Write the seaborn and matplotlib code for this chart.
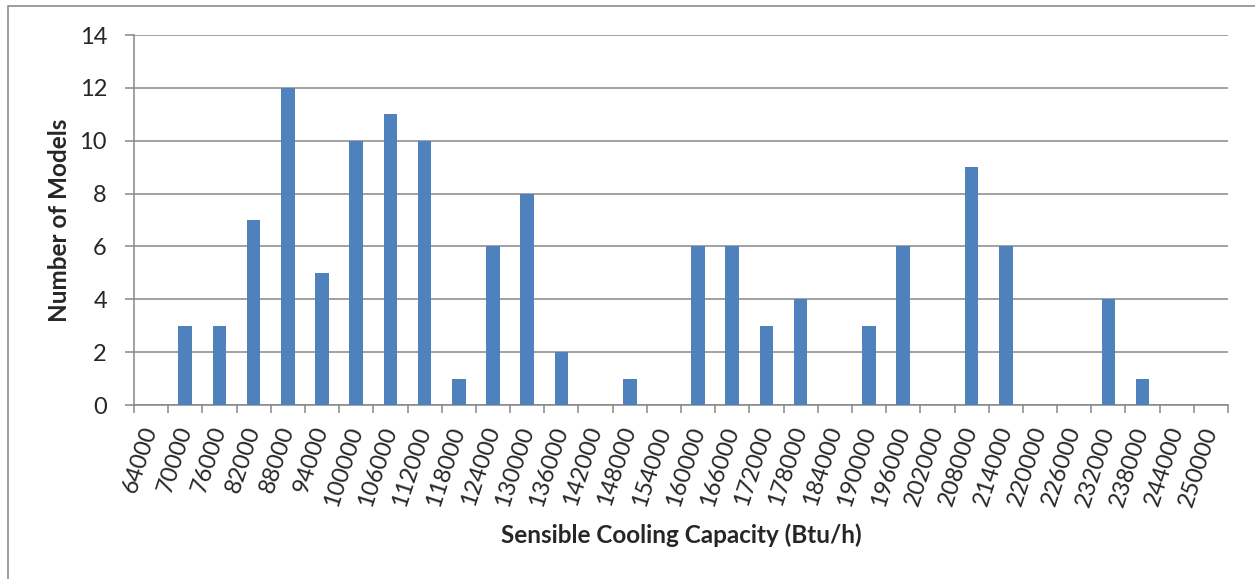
import matplotlib
matplotlib.use("Agg")
import matplotlib.pyplot as plt
import seaborn as sns
import pandas as pd
from matplotlib.ticker import FixedLocator
from matplotlib.patches import Rectangle

capacity = [64000, 70000, 76000, 82000, 88000, 94000, 100000, 106000,
            112000, 118000, 124000, 130000, 136000, 142000, 148000, 154000,
            160000, 166000, 172000, 178000, 184000, 190000, 196000, 202000,
            208000, 214000, 220000, 226000, 232000, 238000, 244000, 250000]
models = [0, 3, 3, 7, 12, 5, 10, 11,
          10, 1, 6, 8, 2, 0, 1, 0,
          6, 6, 3, 4, 0, 3, 6, 0,
          9, 6, 0, 0, 4, 1, 0, 0]
y_ticks = [0, 2, 4, 6, 8, 10, 12, 14]

labels = [str(c) for c in capacity]
df = pd.DataFrame({"capacity": labels, "models": models})

sns.set_theme(style="white")
plt.rcParams["font.family"] = ["Lato", "DejaVu Sans"]

fig = plt.figure(figsize=(12.55, 5.79), dpi=100)
ax = fig.add_axes([134 / 1255, 1 - 405 / 579, (1228 - 134) / 1255, (405 - 35) / 579])

sns.barplot(data=df, x="capacity", y="models", order=labels, color="#4F81BD",
            saturation=1, width=0.4, linewidth=0, ax=ax, zorder=3)

grid_c = "#878787"
tick_fs = 17
ax.set_ylim(0, 14)
ax.set_xlim(-0.5, len(labels) - 0.5)
ax.set_yticks(y_ticks)
ax.set_yticklabels([str(v) for v in y_ticks], fontsize=tick_fs)
ax.yaxis.grid(True, color=grid_c, linewidth=1.1, zorder=0)
ax.set_axisbelow(True)

ax.xaxis.set_major_locator(FixedLocator(range(len(labels))))
ax.set_xticklabels(labels, rotation=72, ha="right", va="center",
                   rotation_mode="anchor", fontsize=tick_fs)
ax.xaxis.set_minor_locator(FixedLocator([i - 0.5 for i in range(len(labels) + 1)]))
ax.tick_params(axis="x", which="major", length=0, pad=16)
ax.tick_params(axis="x", which="minor", length=6, width=1.1, color=grid_c, bottom=True)
ax.tick_params(axis="y", length=6.5, width=1.1, color=grid_c, left=True, pad=13)

for side in ["top", "right"]:
    ax.spines[side].set_visible(False)
for side in ["left", "bottom"]:
    ax.spines[side].set_color(grid_c)
    ax.spines[side].set_linewidth(1.1)

ax.set_xlabel("Sensible Cooling Capacity (Btu/h)", fontsize=17.5, fontweight="bold", labelpad=10)
ax.set_ylabel("Number of Models", fontsize=17.5, fontweight="bold", labelpad=6)

# chart frame (top and left edges visible)
fig.patches.append(Rectangle((8 / 1255, -0.1), 1.2, 1 - 6 / 579 + 0.1,
                             transform=fig.transFigure, fill=False,
                             edgecolor="#8c8c8c", linewidth=1.2))

fig.savefig("out.png", dpi=100)
